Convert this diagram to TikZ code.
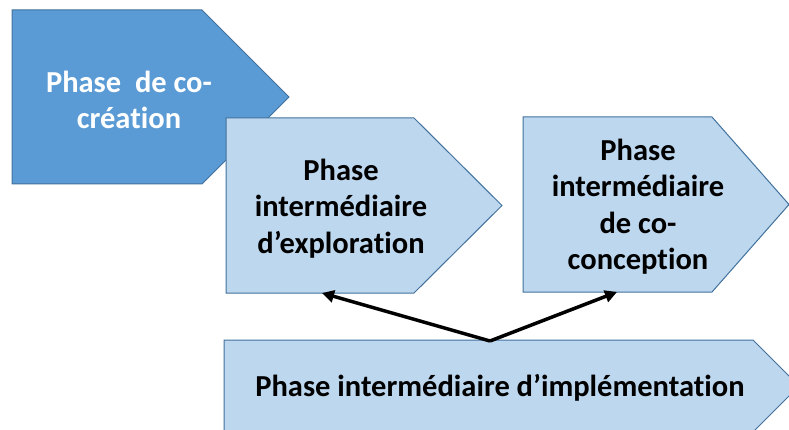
\documentclass[tikz,border=0pt]{standalone}
\usepackage{fontspec}
\setmainfont{Carlito}[Ligatures=NoCommon]
\usetikzlibrary{arrows.meta}
\definecolor{darkfill}{HTML}{5B9BD5}
\definecolor{lightfill}{HTML}{BDD7EE}
\definecolor{edgeblue}{HTML}{41719C}
\tikzset{
  phasedark/.style={fill=darkfill, draw=edgeblue, line width=1pt, line join=miter},
  phaselight/.style={fill=lightfill, draw=edgeblue, line width=1pt, line join=miter},
  phasetext/.style={font=\bfseries\fontsize{30.5}{36.5}\selectfont, align=center, inner sep=0pt},
  linkarrow/.style={line width=3.5pt, draw=black, -{Triangle[length=12pt,width=12pt]}}
}
\begin{document}
\begin{tikzpicture}[x=1pt,y=-1pt]
\useasboundingbox (0,0) rectangle (789,430);
\clip (0,0) rectangle (789,430);
% shape 1 : co-creation
\path[phasedark] (12,10) -- (202,10) -- (289,97) -- (202,184) -- (12,184) -- cycle;
\node[phasetext, text=white] (cocreation) at (129,100) {Phase\ \ de co-\\création};
% shape 2 : exploration
\path[phaselight] (226,118) -- (414,118) -- (502,205.5) -- (414,293) -- (226,293) -- cycle;
\node[phasetext] (exploration) at (341,208.5) {Phase\\intermédiaire\\d’exploration};
\coordinate (explbottom) at (322,293);
% shape 3 : co-conception
\path[phaselight] (523,117) -- (712,117) -- (789,204.5) -- (712,292) -- (523,292) -- cycle;
\node[phasetext] (coconception) at (638,206.5) {Phase\\intermédiaire\\de co-\\conception};
\coordinate (concbottom) at (617,292);
% shape 4 : implementation
\path[phaselight] (224,340) -- (753,340) -- (799,386) -- (753,432) -- (224,432) -- cycle;
\node[phasetext, anchor=base] (implementation) at (500,396) {Phase intermédiaire d’implémentation};
\coordinate (junction) at (490,341);
% arrows
\draw[linkarrow] (junction) -- (explbottom);
\draw[linkarrow] (junction) -- (concbottom);
\end{tikzpicture}
\end{document}
